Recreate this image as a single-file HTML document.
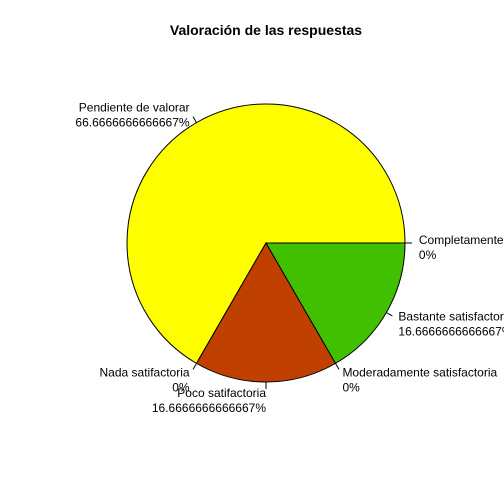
<!DOCTYPE html>
<html><head><meta charset="utf-8"><style>body{margin:0;background:#fff}svg{display:block;font-family:"Liberation Sans",sans-serif}</style></head>
<body>
<svg id="c" width="504" height="504" viewBox="0 0 504 504">
<text x="266" y="35" text-anchor="middle" font-weight="bold" font-size="14">Valoración de las respuestas</text>
</svg>
<script>
const categories = ["Pendiente de valorar","Nada satifactoria","Poco satifactoria","Moderadamente satisfactoria","Bastante satisfactoria","Completamente"];
const values = [4,0,1,0,1,0];
const labels = ["66.6666666666667%","0%","16.6666666666667%","0%","16.6666666666667%","0%"];
const colors = ["#FFFF00","#FF8000","#C04000","#80C000","#40C000","#00C000"];
const svg = document.getElementById('c');
const NS = 'http://www.w3.org/2000/svg';
const cx = 266, cy = 243, r = 139;
const total = values.reduce((a,b)=>a+b,0);
function pt(a, rr){ return [cx + rr*Math.cos(a), cy - rr*Math.sin(a)]; }
let cum = 0;
const slices = [];
categories.forEach((c,i)=>{ const a0 = cum/total*2*Math.PI; cum += values[i]; const a1 = cum/total*2*Math.PI; slices.push([i,a0,a1]); });
slices.forEach(([i,a0,a1])=>{
  if (a1 > a0) {
    const p0 = pt(a0,r), p1 = pt(a1,r);
    const large = (a1-a0) > Math.PI ? 1 : 0;
    const path = document.createElementNS(NS,'path');
    path.setAttribute('d',`M${cx},${cy} L${p0[0]},${p0[1]} A${r},${r} 0 ${large} 0 ${p1[0]},${p1[1]} Z`);
    path.setAttribute('fill',colors[i]);
    path.setAttribute('stroke','#000');
    path.setAttribute('stroke-width','1');
    
    
    svg.appendChild(path);
  }
});
slices.forEach(([i,a0,a1])=>{
  const am = (a0+a1)/2;
  const q0 = pt(am,r), q1 = pt(am,r*1.05), l = pt(am,r*1.1);
  const ln = document.createElementNS(NS,'line');
  ln.setAttribute('x1',q0[0]); ln.setAttribute('y1',q0[1]);
  ln.setAttribute('x2',q1[0]); ln.setAttribute('y2',q1[1]);
  ln.setAttribute('stroke','#000');
  
  
  svg.appendChild(ln);
  const t = document.createElementNS(NS,'text');
  t.setAttribute('font-size','12');
  t.setAttribute('text-anchor', Math.cos(am) < 0 ? 'end' : 'start');
  
  
  const s1 = document.createElementNS(NS,'tspan');
  s1.setAttribute('x',l[0]); s1.setAttribute('y',l[1]+1); s1.textContent = categories[i];
  const s2 = document.createElementNS(NS,'tspan');
  s2.setAttribute('x',l[0]); s2.setAttribute('y',l[1]+16); s2.textContent = labels[i];
  t.appendChild(s1); t.appendChild(s2);
  svg.appendChild(t);
});
</script>
</body></html>
